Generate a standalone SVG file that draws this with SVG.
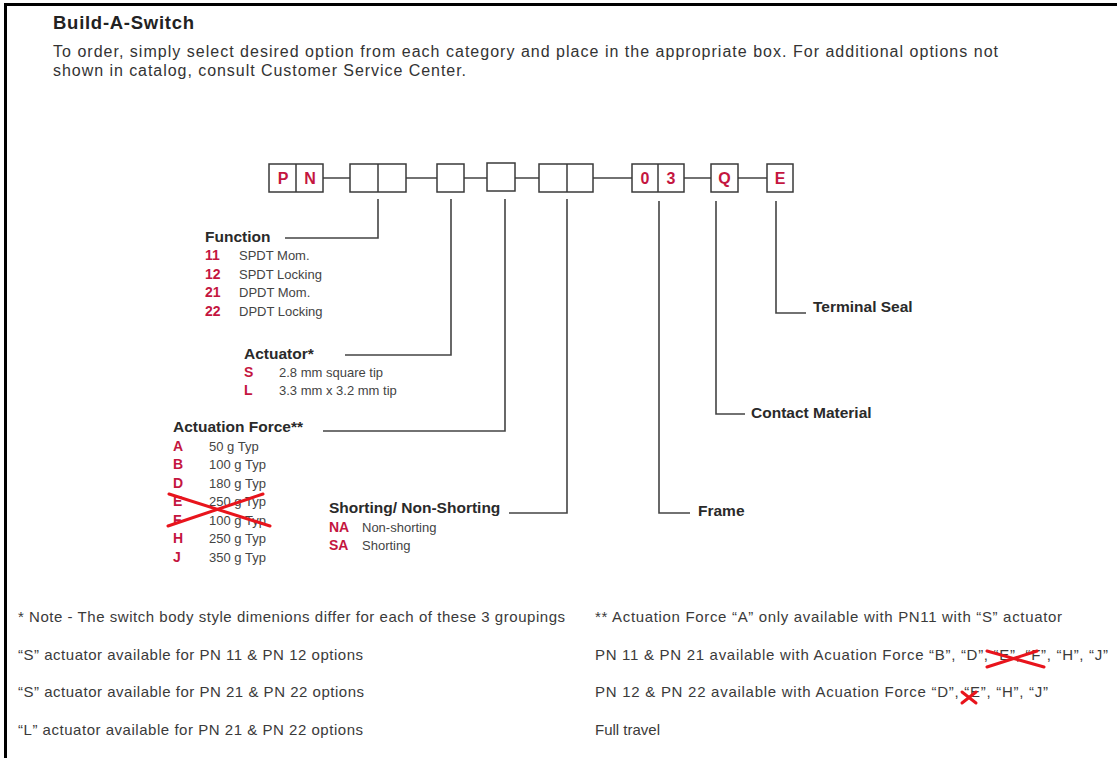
<svg xmlns="http://www.w3.org/2000/svg" width="1117" height="758" viewBox="0 0 1117 758">
<style>
text{font-family:"Liberation Sans",Arial,sans-serif;fill:#3a3a3a}
.ttl{font-size:18.5px;font-weight:bold;fill:#222}
.p{font-size:16px;fill:#333}
.h{font-size:15.5px;font-weight:bold;fill:#2a2a2a}
.code{font-size:14px;font-weight:bold;fill:#c4163f}
.it{font-size:13px;fill:#444}
.box{fill:#fff;stroke:#3a3a3a;stroke-width:1.5}
.bl{font-size:16px;font-weight:bold;fill:#c4163f;text-anchor:middle}
.ln{fill:none;stroke:#444;stroke-width:1.6}
.x{stroke:#e8141c;stroke-width:3;stroke-linecap:round}
.note{font-size:15px;fill:#3a3a3a}
</style>
<rect width="1117" height="758" fill="#fff"/>
<path d="M5.5,758 V4.5 H1117" fill="none" stroke="#000" stroke-width="3"/>

<g id="header">
<text class="ttl" x="53" y="29" textLength="141">Build-A-Switch</text>
<text class="p" x="53" y="57" textLength="945">To order, simply select desired option from each category and place in the appropriate box.  For additional options not</text>
<text class="p" x="53" y="76" textLength="413">shown in catalog, consult Customer Service Center.</text>
</g>

<g id="connectors">
<path class="ln" d="M323,178 H350 M406,178 H437 M464,178 H487 M515,178 H539 M593,178 H632 M684,178 H711 M738,178 H767"/>
<path class="ln" d="M378,199 V238 H285"/>
<path class="ln" d="M451,199 V355 H345"/>
<path class="ln" d="M505,199 V431 H323"/>
<path class="ln" d="M567,199 V513 H509"/>
<path class="ln" d="M659,201 V513 H690"/>
<path class="ln" d="M716,201 V414 H745"/>
<path class="ln" d="M776,201 V313 H806"/>
</g>

<g id="box-pn">
<rect class="box" x="269" y="164" width="54" height="28"/>
<line class="box" x1="296" y1="164" x2="296" y2="192"/>
<text class="bl" x="283" y="184">P</text>
<text class="bl" x="310" y="184">N</text>
</g>
<g id="box-function">
<rect class="box" x="350" y="164" width="56" height="28"/>
<line class="box" x1="378" y1="164" x2="378" y2="192"/>
</g>
<g id="box-actuator">
<rect class="box" x="437" y="164" width="27" height="28"/>
</g>
<g id="box-force">
<rect class="box" x="487" y="163" width="28" height="28"/>
</g>
<g id="box-shorting">
<rect class="box" x="539" y="164" width="54" height="28"/>
<line class="box" x1="567" y1="164" x2="567" y2="192"/>
</g>
<g id="box-frame">
<rect class="box" x="632" y="164" width="52" height="28"/>
<line class="box" x1="658" y1="164" x2="658" y2="192"/>
<text class="bl" x="645" y="184">0</text>
<text class="bl" x="671" y="184">3</text>
</g>
<g id="box-contact">
<rect class="box" x="711" y="164" width="27" height="28"/>
<text class="bl" x="724.5" y="184">Q</text>
</g>
<g id="box-seal">
<rect class="box" x="767" y="164" width="26" height="28"/>
<text class="bl" x="780" y="184">E</text>
</g>

<g id="function">
<text class="h" x="205" y="242">Function</text>
<text class="code" x="205" y="260">11</text><text class="it" x="239" y="260">SPDT Mom.</text>
<text class="code" x="205" y="279">12</text><text class="it" x="239" y="279">SPDT Locking</text>
<text class="code" x="205" y="297">21</text><text class="it" x="239" y="297">DPDT Mom.</text>
<text class="code" x="205" y="316">22</text><text class="it" x="239" y="316">DPDT Locking</text>
</g>

<g id="actuator">
<text class="h" x="244" y="359">Actuator*</text>
<text class="code" x="244" y="377">S</text><text class="it" x="279" y="377">2.8 mm square tip</text>
<text class="code" x="244" y="395">L</text><text class="it" x="279" y="395">3.3 mm x 3.2 mm tip</text>
</g>

<g id="actuation-force">
<text class="h" x="173" y="432">Actuation Force**</text>
<text class="code" x="173" y="451">A</text><text class="it" x="209" y="451">50 g Typ</text>
<text class="code" x="173" y="469">B</text><text class="it" x="209" y="469">100 g Typ</text>
<text class="code" x="173" y="488">D</text><text class="it" x="209" y="488">180 g Typ</text>
<text class="code" x="173" y="506">E</text><text class="it" x="209" y="506">250 g Typ</text>
<text class="code" x="173" y="525">F</text><text class="it" x="209" y="525">100 g Typ</text>
<text class="code" x="173" y="543">H</text><text class="it" x="209" y="543">250 g Typ</text>
<text class="code" x="173" y="562">J</text><text class="it" x="209" y="562">350 g Typ</text>
<line class="x" x1="169" y1="494" x2="270" y2="526"/>
<line class="x" x1="168" y1="526" x2="263" y2="494"/>
</g>

<g id="shorting">
<text class="h" x="329" y="513">Shorting/ Non-Shorting</text>
<text class="code" x="329" y="532">NA</text><text class="it" x="362" y="532">Non-shorting</text>
<text class="code" x="329" y="550">SA</text><text class="it" x="362" y="550">Shorting</text>
</g>

<g id="frame"><text class="h" x="698" y="516">Frame</text></g>
<g id="contact-material"><text class="h" x="751" y="418">Contact Material</text></g>
<g id="terminal-seal"><text class="h" x="813" y="312">Terminal Seal</text></g>

<g id="notes">
<text class="note" x="18" y="622" textLength="547">* Note - The switch body style dimenions differ for each of these 3 groupings</text>
<text class="note" x="18" y="660" textLength="345">“S” actuator available for PN 11 &amp; PN 12 options</text>
<text class="note" x="18" y="697" textLength="346">“S” actuator available for PN 21 &amp; PN 22 options</text>
<text class="note" x="18" y="735" textLength="345">“L” actuator available for PN 21 &amp; PN 22 options</text>
<text class="note" x="595" y="622" textLength="467">** Actuation Force  “A” only available with PN11 with “S” actuator</text>
<text class="note" x="595" y="660" textLength="513">PN 11 &amp; PN 21 available with Acuation Force “B”, “D”, “E”, “F”, “H”, “J”</text>
<text class="note" x="595" y="697" textLength="453">PN 12 &amp; PN 22 available with Acuation Force “D”, “E”, “H”, “J”</text>
<text class="note" x="595" y="735">Full travel</text>
<line class="x" x1="987" y1="651" x2="1044" y2="667"/>
<line class="x" x1="987" y1="667" x2="1037" y2="651"/>
<line class="x" x1="962" y1="692" x2="976" y2="703"/>
<line class="x" x1="962" y1="703" x2="976" y2="692"/>
</g>
</svg>
